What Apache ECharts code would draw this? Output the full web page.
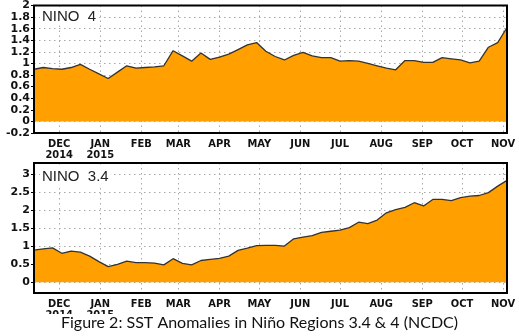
<!DOCTYPE html>
<html>
<head>
<meta charset="utf-8">
<script src="https://cdn.jsdelivr.net/npm/echarts@6/dist/echarts.min.js"></script>
<style>
html,body{margin:0;padding:0;background:#fff;}
#c{width:519px;height:336px;}
</style>
</head>
<body>
<div id="c"></div>
<script>
// Weekly dates (centered weeks)
var weeks = [
  '2014-11-12','2014-11-19','2014-11-26','2014-12-03','2014-12-10','2014-12-17','2014-12-24','2014-12-31',
  '2015-01-07','2015-01-14','2015-01-21','2015-01-28','2015-02-04','2015-02-11','2015-02-18','2015-02-25',
  '2015-03-04','2015-03-11','2015-03-18','2015-03-25','2015-04-01','2015-04-08','2015-04-15','2015-04-22',
  '2015-04-29','2015-05-06','2015-05-13','2015-05-20','2015-05-27','2015-06-03','2015-06-10','2015-06-17',
  '2015-06-24','2015-07-01','2015-07-08','2015-07-15','2015-07-22','2015-07-29','2015-08-05','2015-08-12',
  '2015-08-19','2015-08-26','2015-09-02','2015-09-09','2015-09-16','2015-09-23','2015-09-30','2015-10-07',
  '2015-10-14','2015-10-21','2015-10-28','2015-11-04'
];
// NINO 4 SST anomalies
var nino4 = [
  0.90,0.93,0.91,0.90,0.93,0.985,0.90,0.82,
  0.74,0.85,0.96,0.92,0.93,0.94,0.96,1.22,
  1.13,1.04,1.18,1.07,1.11,1.16,1.24,1.32,
  1.36,1.21,1.12,1.06,1.14,1.19,1.13,1.10,
  1.10,1.04,1.05,1.04,1.00,0.96,0.92,0.89,
  1.05,1.05,1.02,1.02,1.10,1.08,1.06,1.01,
  1.04,1.28,1.36,1.62
];
// NINO 3.4 SST anomalies
var nino34 = [
  0.89,0.92,0.95,0.80,0.86,0.83,0.72,0.57,
  0.43,0.49,0.58,0.54,0.54,0.53,0.48,0.65,
  0.52,0.48,0.60,0.63,0.66,0.72,0.88,0.94,
  1.01,1.02,1.02,1.00,1.20,1.25,1.29,1.38,
  1.41,1.44,1.51,1.66,1.62,1.72,1.92,2.01,
  2.07,2.20,2.11,2.29,2.29,2.26,2.34,2.38,
  2.40,2.48,2.66,2.82
];
// Month tick positions and labels
var monthTicks = ['2014-12-01','2015-01-01','2015-02-01','2015-03-01','2015-04-01','2015-05-01',
  '2015-06-01','2015-07-01','2015-08-01','2015-09-01','2015-10-01','2015-11-01'];
var monthLabels = ['DEC\n2014','JAN\n2015','FEB','MAR','APR','MAY','JUN','JUL','AUG','SEP','OCT','NOV'];
var yTicks34 = [0,0.5,1,1.5,2,2.5,3];
var titles = ['NINO  4','NINO  3.4'];
var caption = 'Figure 2: SST Anomalies in Niño Regions 3.4 & 4 (NCDC)';

function ts(s){ var p=s.split('-'); return new Date(+p[0], +p[1]-1, +p[2]).getTime(); }
var tickTs = monthTicks.map(ts);
function monthFmt(v){
  var i = -1;
  for (var k=0;k<tickTs.length;k++){ if (Math.abs(tickTs[k]-v) < 3600000*12) { i=k; break; } }
  return i >= 0 ? monthLabels[i] : '';
}
function pairs(vals){ return weeks.map(function(d,i){ return [ts(d), vals[i]]; }); }

var gridLine = { show:true, lineStyle:{ color:'#a8a8a8', width:1, type:[1.5,3.5] } };
var xLabel = { customValues: tickTs, formatter: monthFmt, fontFamily:"'Liberation Sans Narrow','DejaVu Sans Condensed','Arial Narrow',sans-serif",
  fontWeight:'bold', fontSize:11, color:'#111', lineHeight:11, margin:6, hideOverlap:false };
var yLabel = { fontFamily:"'DejaVu Sans',sans-serif", fontWeight:'bold', fontSize:11, color:'#111', margin:4 };

function xAxis(gi){
  return { type:'value', gridIndex:gi, min:ts(weeks[0]), max:ts(weeks[weeks.length-1]),
    axisLine:{show:false}, axisTick:{show:false, customValues: tickTs},
    axisLabel: xLabel, splitLine: gridLine };
}

var chart = echarts.init(document.getElementById('c'), null, {renderer:'canvas'});
chart.setOption({
  animation:false,
  backgroundColor:'#fff',
  grid:[
    { left:34, top:3, width:473, height:130, show:true, borderColor:'#000', borderWidth:2, backgroundColor:'transparent', z:10 },
    { left:34, top:163, width:473, height:130, show:true, borderColor:'#000', borderWidth:2, backgroundColor:'transparent', z:10 }
  ],
  xAxis:[ xAxis(0), xAxis(1) ],
  yAxis:[
    { type:'value', gridIndex:0, min:-0.2, max:2, interval:0.2,
      axisLine:{show:false}, axisTick:{show:true, length:3, lineStyle:{color:'#000'}},
      axisLabel: Object.assign({}, yLabel, { formatter:function(v){ return (Math.round(v*10)/10).toString(); } }),
      splitLine: gridLine },
    { type:'value', gridIndex:1, min:-0.3, max:3.3,
      axisLine:{show:false}, axisTick:{show:true, length:3, lineStyle:{color:'#000'}, customValues: yTicks34},
      axisLabel: Object.assign({}, yLabel, { customValues: yTicks34, formatter:function(v){ return (Math.round(v*10)/10).toString(); } }),
      splitLine: gridLine }
  ],
  series:[
    { type:'line', xAxisIndex:0, yAxisIndex:0, data:pairs(nino4), symbol:'none', z:3,
      lineStyle:{ color:'#333', width:1.3 }, areaStyle:{ color:'#ffa000', opacity:1, origin:0 } },
    { type:'line', xAxisIndex:1, yAxisIndex:1, data:pairs(nino34), symbol:'none', z:3,
      lineStyle:{ color:'#333', width:1.3 }, areaStyle:{ color:'#ffa000', opacity:1, origin:0 } }
  ],
  graphic:[
    { type:'text', left:40, top:8, z:20, style:{ text:titles[0], fontFamily:"'Liberation Sans',Arial,sans-serif", fontSize:15, fill:'#222',
      backgroundColor:'#fff', padding:[1,2,1,2] } },
    { type:'text', left:40, top:168, z:20, style:{ text:titles[1], fontFamily:"'Liberation Sans',Arial,sans-serif", fontSize:15, fill:'#222',
      backgroundColor:'#fff', padding:[1,2,1,2] } },
    { type:'rect', left:0, top:314, z:30, shape:{ width:519, height:22 }, style:{ fill:'#fff' } },
    { type:'text', left:'center', top:315, z:31, style:{ text:caption, fontFamily:"Lato,'Open Sans',sans-serif", fontSize:16, fill:'#111' } }
  ]
});
</script>
</body>
</html>
